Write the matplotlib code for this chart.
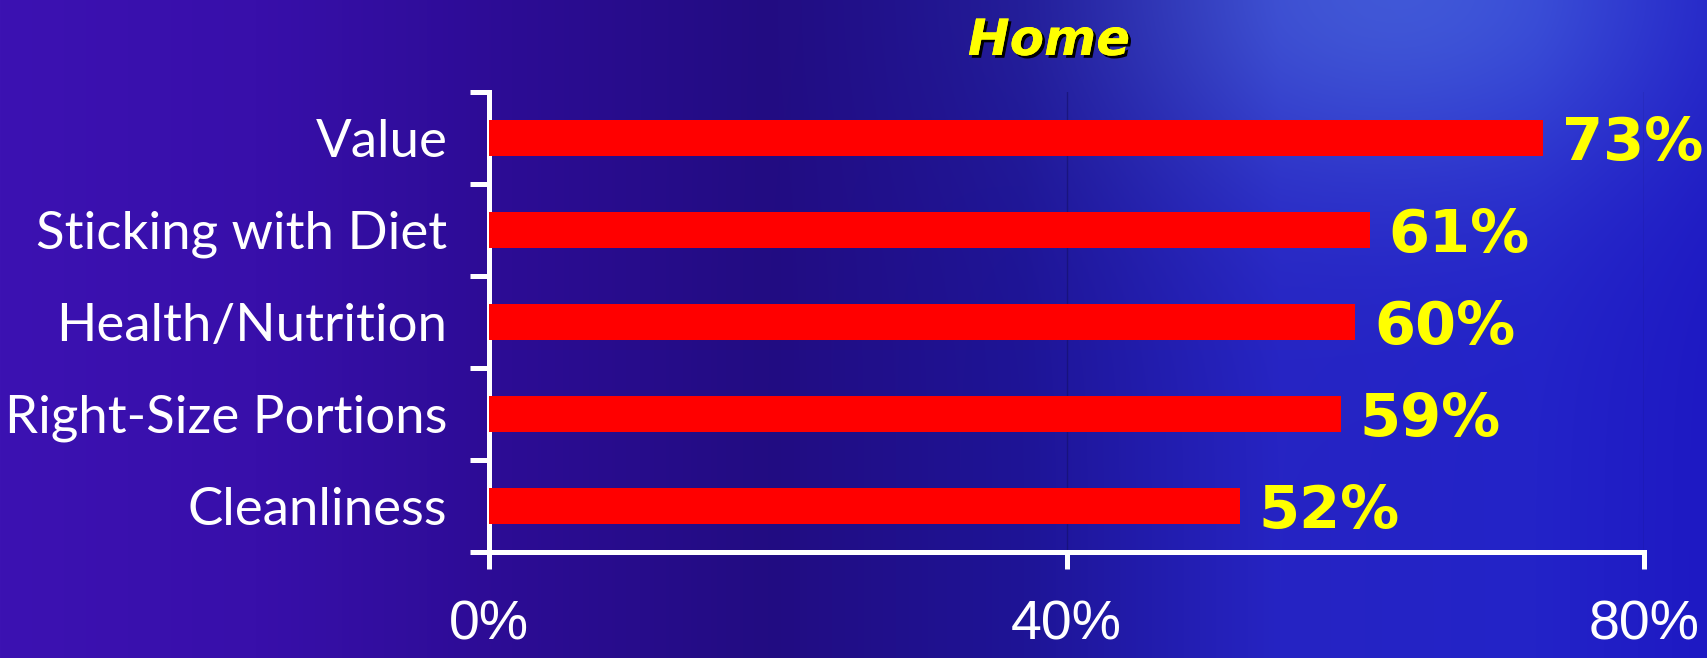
import numpy as np
import matplotlib
matplotlib.use("Agg")
import matplotlib.pyplot as plt
import matplotlib.patheffects as pe

# data
categories = ["Value", "Sticking with Diet", "Health/Nutrition",
              "Right-Size Portions", "Cleanliness"]
values = [73, 61, 60, 59, 52]
xticks = [0, 40, 80]
xtick_labels = ["0%", "40%", "80%"]
title = "Home"

W, H = 1707, 658
fig = plt.figure(figsize=(W / 100, H / 100), dpi=100)

# background: blue gradient with a light glow top right
xs = np.linspace(0, 1, W)
stops = [0.0, 0.15, 0.3, 0.45, 0.6, 0.75, 0.9, 1.0]
r = [60, 56, 44, 34, 30, 38, 35, 30]
g = [18, 15, 12, 12, 20, 36, 35, 25]
b = [178, 170, 148, 130, 150, 195, 200, 195]
row = np.stack([np.interp(xs, stops, c) for c in (r, g, b)], axis=-1)
img = np.repeat(row[None, :, :], H, axis=0)
yy, xx = np.mgrid[0:H, 0:W]
glow = np.exp(-(((xx - 1400) / 300.0) ** 2 + ((yy + 10) / 190.0) ** 2))
img = img + glow[..., None] * np.array([28, 52, 18])
img = np.clip(img / 255.0, 0, 1)

bg = fig.add_axes([0, 0, 1, 1], zorder=-1)
bg.imshow(img, aspect="auto", interpolation="bilinear")
bg.axis("off")

ax = fig.add_axes([489 / W, 1 - 552 / H, (1644 - 489) / W, (552 - 92) / H])
ax.patch.set_alpha(0)

pos = np.arange(len(categories))
ax.barh(pos, values, height=0.4, color="#ff0000", zorder=3)
ax.set_xlim(0, 80)
ax.set_ylim(len(categories) - 0.5, -0.5)

for sp in ["top", "right"]:
    ax.spines[sp].set_visible(False)
for sp in ["left", "bottom"]:
    ax.spines[sp].set_color("white")
    ax.spines[sp].set_linewidth(3.6)

# faint grid lines
for xv in xticks[1:]:
    ax.axvline(xv, color="#14106a", lw=1, alpha=0.6, zorder=1)

ax.set_yticks(np.arange(len(categories) + 1) - 0.5)
ax.set_yticklabels([])
ax.tick_params(axis="y", which="major", direction="out", length=13.7,
               width=3.6, color="white")
ax.set_yticks(pos, categories, minor=True)
ax.tick_params(axis="y", which="minor", length=0, pad=30,
               labelcolor="white", labelsize=38)
for t in ax.get_yticklabels(minor=True):
    t.set_family("Lato")

ax.set_xticks(xticks, xtick_labels)
ax.tick_params(axis="x", direction="out", length=12, width=3.6,
               color="white", labelcolor="white", labelsize=40, pad=22)
for t in ax.get_xticklabels():
    t.set_family("Liberation Sans")

for i, v in enumerate(values):
    ax.annotate(f"{v}%", (v, i), xytext=(13.7, -15.5),
                textcoords="offset points", va="baseline", ha="left",
                color="#ffff00", fontsize=42.5, fontweight="bold",
                family="DejaVu Sans")

fig.text(1049 / W, 1 - 55 / H, title, ha="center", va="baseline",
         color="#ffff00", fontsize=36, fontweight="bold", style="italic",
         family="DejaVu Sans",
         path_effects=[pe.withSimplePatchShadow(offset=(2, -2),
                                                shadow_rgbFace="black",
                                                alpha=1),
                       pe.Normal()])

fig.savefig("out.png", dpi=100)
